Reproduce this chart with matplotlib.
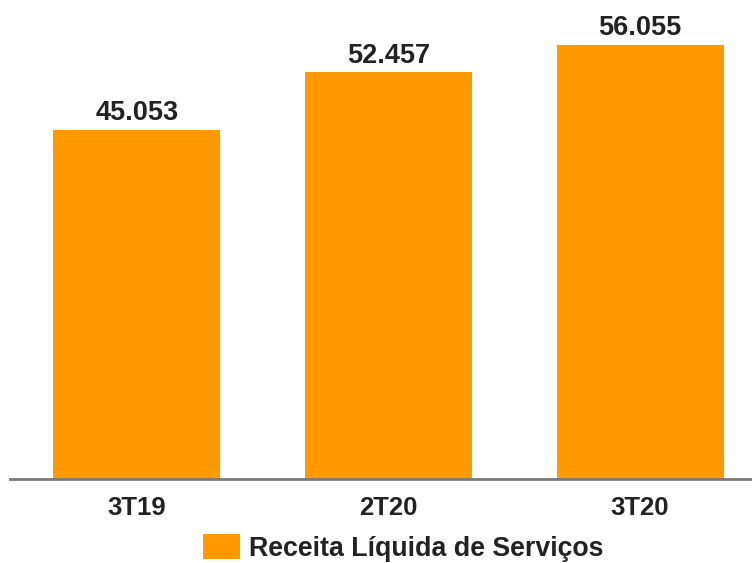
import matplotlib
matplotlib.use('Agg')
from matplotlib import pyplot as plt

categories = ['3T19', '2T20', '3T20']
values = [45.053, 52.457, 56.055]
value_labels = ['45.053', '52.457', '56.055']
series_name = 'Receita Líquida de Serviços'

plt.rcParams['font.family'] = ['Liberation Sans', 'DejaVu Sans']

fig = plt.figure(figsize=(7.52, 5.63), dpi=100)
ax = fig.add_axes([0.013, 0.149, 0.987, 0.851])

x = range(len(categories))
bars = ax.bar(x, values, width=0.664, color='#FF9900', label=series_name)
for bar, text in zip(bars, value_labels):
    ax.text(bar.get_x() + bar.get_width() / 2, bar.get_height() + 0.45, text,
            ha='center', va='bottom', fontsize=19.5, fontweight='bold', color='#222222')

ax.set_xlim(-0.505, 2.445)
ax.set_ylim(0, 61.8)
ax.set_xticks(list(x))
ax.set_xticklabels(categories, fontsize=18.5, fontweight='bold', color='#222222')
ax.tick_params(axis='x', length=0, pad=12)
ax.set_yticks([])
for side in ['top', 'right', 'left']:
    ax.spines[side].set_visible(False)
ax.spines['bottom'].set_color('#7a7a7a')
ax.spines['bottom'].set_linewidth(2)

fig.legend(loc='center left', bbox_to_anchor=(0.27, 0.027), frameon=False,
           borderpad=0, borderaxespad=0,
           prop={'size': 19.3, 'weight': 'bold'}, handlelength=1.38, handleheight=1.05,
           handletextpad=0.35, labelcolor='#222222')

plt.savefig('out.png', dpi=100)
plt.close()
